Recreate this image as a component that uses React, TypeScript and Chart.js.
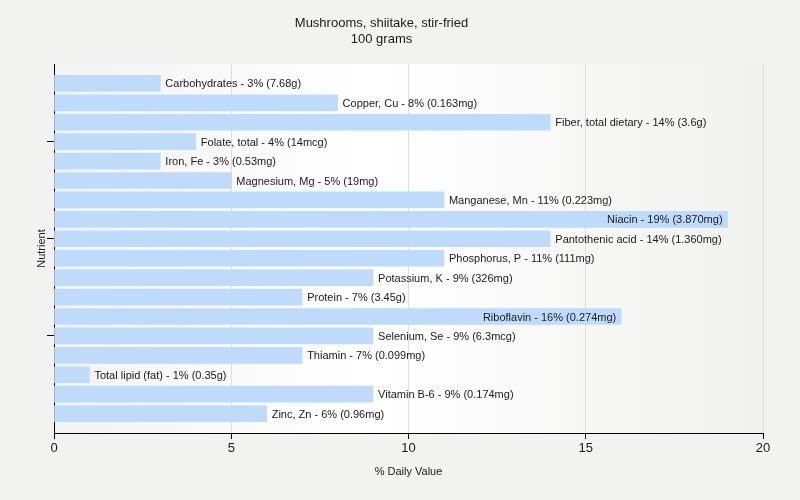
import React, { useEffect, useRef } from "react";
import { Chart, registerables } from "chart.js";

Chart.register(...registerables);

const nutrients: string[] = [
  "Carbohydrates",
  "Copper, Cu",
  "Fiber, total dietary",
  "Folate, total",
  "Iron, Fe",
  "Magnesium, Mg",
  "Manganese, Mn",
  "Niacin",
  "Pantothenic acid",
  "Phosphorus, P",
  "Potassium, K",
  "Protein",
  "Riboflavin",
  "Selenium, Se",
  "Thiamin",
  "Total lipid (fat)",
  "Vitamin B-6",
  "Zinc, Zn",
];

const dailyValues: number[] = [3, 8, 14, 4, 3, 5, 11, 19, 14, 11, 9, 7, 16, 9, 7, 1, 9, 6];

const amounts: string[] = [
  "7.68g",
  "0.163mg",
  "3.6g",
  "14mcg",
  "0.53mg",
  "19mg",
  "0.223mg",
  "3.870mg",
  "1.360mg",
  "111mg",
  "326mg",
  "3.45g",
  "0.274mg",
  "6.3mcg",
  "0.099mg",
  "0.35g",
  "0.174mg",
  "0.96mg",
];

const xTicks: number[] = [0, 5, 10, 15, 20];
const yTickIndexes: number[] = [3, 8, 13];

const titleLines: string[] = ["Mushrooms, shiitake, stir-fried", "100 grams"];
const FONT = "'Liberation Sans', Arial, sans-serif";

const backgroundPlugin = {
  id: "bgPlugin",
  beforeDraw(chart: any) {
    const { ctx, chartArea, width, height } = chart;
    ctx.save();
    ctx.fillStyle = "#f2f2f1";
    ctx.fillRect(0, 0, width, height);
    const g = ctx.createLinearGradient(chartArea.left, 0, chartArea.right, 0);
    g.addColorStop(0, "#f3f3f3");
    g.addColorStop(0.45, "#ffffff");
    g.addColorStop(1, "#f1f1f0");
    ctx.fillStyle = g;
    ctx.fillRect(chartArea.left, chartArea.top, chartArea.right - chartArea.left, chartArea.bottom - chartArea.top);
    ctx.restore();
  },
};

const labelPlugin = {
  id: "barLabels",
  afterDatasetsDraw(chart: any) {
    const { ctx, chartArea } = chart;
    const meta = chart.getDatasetMeta(0);
    ctx.save();
    ctx.font = `11px ${FONT}`;
    ctx.fillStyle = "#1a1a1a";
    ctx.textBaseline = "middle";
    meta.data.forEach((bar: any, i: number) => {
      const text = `${nutrients[i]} - ${dailyValues[i]}% (${amounts[i]})`;
      const w = ctx.measureText(text).width;
      if (bar.x + 5 + w > chartArea.right - 10) {
        ctx.textAlign = "right";
        ctx.fillText(text, bar.x - 5, bar.y + 1);
      } else {
        ctx.textAlign = "left";
        ctx.fillText(text, bar.x + 5, bar.y + 1);
      }
    });
    ctx.restore();
  },
};

export default function App() {
  const canvasRef = useRef<HTMLCanvasElement | null>(null);

  useEffect(() => {
    document.body.style.margin = "0";
    const canvas = canvasRef.current;
    if (!canvas) return;
    const chart = new Chart(canvas, {
      type: "bar",
      data: {
        datasets: [
          {
            data: dailyValues.map((v, i) => ({ x: v, y: i })),
            backgroundColor: "rgb(191,219,251)",
            borderWidth: 0,
            barThickness: 16,
          },
        ],
      },
      options: {
        animation: false,
        responsive: false,
        maintainAspectRatio: false,
        indexAxis: "y",
        layout: { padding: { left: 0, right: 37, top: 0, bottom: 0 } },
        plugins: {
          legend: { display: false },
          tooltip: { enabled: false },
          title: {
            display: true,
            text: titleLines,
            color: "#1a1a1a",
            font: { family: FONT, size: 13, weight: "normal", lineHeight: 1.2 },
            padding: { top: 16, bottom: 16.8 },
          },
        },
        scales: {
          x: {
            type: "linear",
            min: 0,
            max: 20,
            offset: false,
            afterBuildTicks: (scale: any) => {
              scale.ticks = xTicks.map((v) => ({ value: v }));
            },
            afterFit: (scale: any) => {
              scale.height = 67;
            },
            grid: {
              offset: false,
              color: "#dedede",
              tickColor: "#000000",
              tickLength: 6,
              drawTicks: true,
            },
            border: { display: true, color: "#000000", width: 1 },
            ticks: {
              color: "#1a1a1a",
              font: { family: FONT, size: 13 },
              padding: 2,
              maxRotation: 0,
            },
            title: {
              display: true,
              text: "% Daily Value",
              color: "#1a1a1a",
              font: { family: FONT, size: 11 },
              padding: { top: 0, bottom: 21 },
            },
          },
          y: {
            type: "linear",
            min: -1,
            max: 18,
            reverse: true,
            offset: false,
            afterBuildTicks: (scale: any) => {
              scale.ticks = yTickIndexes.map((v) => ({ value: v }));
            },
            afterFit: (scale: any) => {
              scale.width = 54;
            },
            grid: {
              offset: false,
              drawOnChartArea: false,
              drawTicks: true,
              tickLength: 7,
              tickColor: "#000000",
              color: "#000000",
            },
            border: { display: true, color: "#000000", width: 1 },
            ticks: {
              callback: () => "",
              padding: 0,
            },
            title: {
              display: true,
              text: "Nutrient",
              color: "#1a1a1a",
              font: { family: FONT, size: 11 },
              padding: { top: 35, bottom: 0 },
            },
          },
        },
      } as any,
      plugins: [backgroundPlugin, labelPlugin],
    });
    return () => chart.destroy();
  }, []);

  return (
    <div style={{ width: 800, height: 500 }}>
      <canvas ref={canvasRef} width={800} height={500} />
    </div>
  );
}
